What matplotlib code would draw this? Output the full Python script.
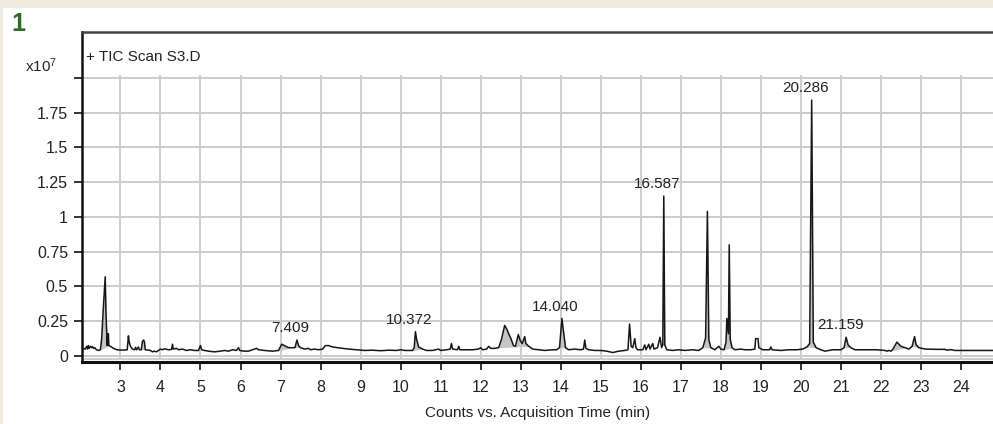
import numpy as np
import matplotlib
matplotlib.use("Agg")
from matplotlib import pyplot as plt
from matplotlib.patches import Rectangle

plt.rcParams['font.family'] = ['Liberation Sans Narrow', 'Liberation Sans', 'DejaVu Sans']
plt.rcParams['mathtext.default'] = 'regular'

# chromatogram trace: time (min), counts (x10^7)
t = [2.08, 2.12, 2.16, 2.18, 2.2, 2.22, 2.25, 2.28, 2.3, 2.33, 2.36, 2.4, 2.45, 2.5,
     2.53, 2.58, 2.62, 2.64, 2.67, 2.685, 2.7, 2.71, 2.75, 2.8, 2.88, 2.95, 3.1, 3.17,
     3.2, 3.22, 3.25, 3.3, 3.35, 3.38, 3.4, 3.45, 3.47, 3.52, 3.55, 3.58, 3.6, 3.62,
     3.7, 3.75, 3.8, 3.85, 3.9, 3.95, 4.0, 4.05, 4.1, 4.2, 4.28, 4.3, 4.32, 4.4, 4.45,
     4.55, 4.65, 4.75, 4.85, 4.95, 5.0, 5.03, 5.1, 5.2, 5.35, 5.5, 5.6, 5.7, 5.8, 5.9,
     5.95, 5.98, 6.1, 6.2, 6.3, 6.4, 6.45, 6.6, 6.8, 6.95, 7.03, 7.1, 7.2, 7.3, 7.36,
     7.41, 7.45, 7.5, 7.6, 7.7, 7.75, 7.85, 7.95, 8.05, 8.12, 8.2, 8.3, 8.5, 8.7, 8.9,
     9.1, 9.3, 9.5, 9.7, 9.9, 10.0, 10.1, 10.3, 10.34, 10.37, 10.4, 10.45, 10.55, 10.65,
     10.8, 10.95, 11.0, 11.15, 11.24, 11.27, 11.3, 11.42, 11.45, 11.48, 11.6, 11.8,
     11.95, 12.0, 12.05, 12.15, 12.2, 12.25, 12.35, 12.45, 12.52, 12.6, 12.66, 12.7,
     12.75, 12.82, 12.87, 12.94, 12.99, 13.04, 13.1, 13.13, 13.2, 13.3, 13.45, 13.6,
     13.8, 13.9, 13.97, 14.03, 14.08, 14.12, 14.2, 14.35, 14.5, 14.57, 14.6, 14.63, 14.7,
     14.85, 15.0, 15.15, 15.3, 15.45, 15.6, 15.68, 15.72, 15.76, 15.8, 15.85, 15.88,
     15.92, 16.05, 16.1, 16.13, 16.2, 16.23, 16.3, 16.33, 16.42, 16.48, 16.52, 16.55,
     16.575, 16.6, 16.65, 16.8, 16.95, 17.1, 17.3, 17.45, 17.55, 17.62, 17.665, 17.7,
     17.75, 17.85, 17.95, 18.0, 18.08, 18.13, 18.15, 18.19, 18.21, 18.235, 18.28, 18.35,
     18.5, 18.6, 18.75, 18.85, 18.87, 18.93, 18.95, 19.05, 19.22, 19.25, 19.28, 19.5,
     19.7, 19.9, 20.05, 20.15, 20.22, 20.27, 20.31, 20.38, 20.5, 20.6, 20.8, 21.0, 21.08,
     21.13, 21.18, 21.25, 21.35, 21.6, 21.9, 22.1, 22.15, 22.2, 22.25, 22.3, 22.4, 22.5,
     22.6, 22.7, 22.78, 22.84, 22.88, 22.95, 23.1, 23.4, 23.6, 23.65, 23.75, 23.85, 24.8]
counts = [0.055, 0.05, 0.07, 0.05, 0.075, 0.055, 0.07, 0.06, 0.068, 0.055, 0.06, 0.045, 0.04, 0.045,
          0.12, 0.38, 0.57, 0.3, 0.075, 0.16, 0.16, 0.075, 0.07, 0.06, 0.048, 0.043, 0.043, 0.045,
          0.145, 0.1, 0.07, 0.05, 0.045, 0.062, 0.045, 0.065, 0.045, 0.045, 0.105, 0.115, 0.1, 0.045,
          0.043, 0.04, 0.03, 0.035, 0.03, 0.04, 0.05, 0.045, 0.052, 0.045, 0.048, 0.085, 0.05, 0.055, 0.045,
          0.05, 0.04, 0.045, 0.04, 0.04, 0.075, 0.045, 0.04, 0.035, 0.03, 0.035, 0.04, 0.035, 0.045, 0.04,
          0.06, 0.04, 0.035, 0.035, 0.045, 0.055, 0.045, 0.04, 0.035, 0.04, 0.085, 0.075, 0.06, 0.06, 0.06,
          0.115, 0.075, 0.06, 0.05, 0.055, 0.045, 0.05, 0.045, 0.05, 0.075, 0.075, 0.065, 0.057, 0.05, 0.045,
          0.04, 0.042, 0.038, 0.042, 0.04, 0.045, 0.04, 0.04, 0.06, 0.175, 0.12, 0.065, 0.05, 0.04,
          0.04, 0.05, 0.04, 0.045, 0.05, 0.09, 0.05, 0.045, 0.07, 0.045, 0.045, 0.045,
          0.05, 0.06, 0.045, 0.05, 0.07, 0.055, 0.055, 0.06, 0.12, 0.22, 0.19, 0.16,
          0.13, 0.075, 0.07, 0.155, 0.11, 0.09, 0.14, 0.09, 0.07, 0.05, 0.045, 0.04,
          0.045, 0.045, 0.06, 0.27, 0.15, 0.06, 0.045, 0.05, 0.045, 0.05, 0.115, 0.055, 0.045,
          0.04, 0.04, 0.035, 0.025, 0.035, 0.04, 0.045, 0.23, 0.07, 0.06, 0.125, 0.06,
          0.045, 0.045, 0.08, 0.045, 0.085, 0.05, 0.09, 0.05, 0.06, 0.135, 0.06, 0.08,
          1.15, 0.08, 0.045, 0.04, 0.045, 0.04, 0.045, 0.04, 0.06, 0.13, 1.04, 0.12,
          0.06, 0.045, 0.07, 0.05, 0.045, 0.1, 0.27, 0.16, 0.8, 0.12, 0.06, 0.045,
          0.05, 0.045, 0.045, 0.05, 0.125, 0.125, 0.06, 0.045, 0.045, 0.065, 0.045, 0.04,
          0.045, 0.045, 0.05, 0.065, 0.09, 1.84, 0.1, 0.06, 0.045, 0.035, 0.045, 0.045, 0.06,
          0.135, 0.08, 0.06, 0.045, 0.045, 0.045, 0.04, 0.035, 0.04, 0.035, 0.05, 0.1, 0.07,
          0.06, 0.05, 0.07, 0.14, 0.08, 0.06, 0.05, 0.048, 0.048, 0.042, 0.046, 0.04, 0.04]

# integrated peak windows (shaded)
windows = [(2.5, 2.72), (3.52, 3.62), (6.95, 7.3), (7.36, 7.5), (10.3, 10.55), (12.45, 13.2),
           (13.97, 14.12), (16.55, 16.6), (17.55, 17.75), (18.08, 18.28), (20.15, 20.38),
           (21.08, 21.25), (22.25, 22.6), (22.78, 22.95)]

# labelled peaks: retention time, apex height
peak_labels = ["7.409", "10.372", "14.040", "16.587", "20.286", "21.159"]
peak_heights = [0.115, 0.175, 0.27, 1.15, 1.84, 0.135]

x_ticks = list(range(3, 25))
y_ticks = [0, 0.25, 0.5, 0.75, 1, 1.25, 1.5, 1.75, 2.0]
y_ticklabels = ["0", "0.25", "0.5", "0.75", "1", "1.25", "1.5", "1.75", ""]

fig = plt.figure(figsize=(9.93, 4.24), dpi=100)
fig.patch.set_facecolor("#f1ebdf")
fig.patches.append(Rectangle((3 / 993, 0), 1, (424 - 8) / 424, transform=fig.transFigure,
                             facecolor="white", edgecolor="none", zorder=-5))

ax = fig.add_axes([82 / 993, 1 - 362 / 424, 1 - 82 / 993, (362 - 32) / 424])
ax.set_zorder(2)
ax.patch.set_alpha(0)
ax.set_xlim(2.04, 24.8)
ax.set_ylim(-0.043, 2.33)

# grid only inside the plotting frame
ax.vlines(x_ticks, -0.022, 2.02, color="#cccccc", lw=1.4, zorder=1)
ax.hlines(y_ticks, 2.04, 24.8, color="#cccccc", lw=1.4, zorder=1)
ax.axhline(-0.022, color="#cccccc", lw=1.4, zorder=1)

tt = np.array(t)
yy = np.array(counts)
for a, b in windows:
    m = (tt >= a) & (tt <= b)
    base = np.interp(tt[m], [a, b], np.interp([a, b], tt, yy))
    ax.fill_between(tt[m], base, yy[m], color="#c4c4c4", lw=0, zorder=2)
ax.plot(tt, yy, color="#161616", lw=1.1, zorder=3)

for lab, h in zip(peak_labels, peak_heights):
    ax.text(float(lab) - 0.17, h + 0.035, lab, ha="center", va="bottom",
            fontsize=11, family=["Liberation Sans", "DejaVu Sans"], color="#222222")

ax.set_xticks(x_ticks)
ax.set_yticks(y_ticks)
ax.set_yticklabels(y_ticklabels)
ax.tick_params(axis="both", direction="out", length=6, width=1.3, labelsize=11.5,
               colors="#222222", pad=4)
ax.tick_params(axis="x", pad=7)

ax.spines["right"].set_visible(False)
ax.spines["top"].set_color("#444444")
ax.spines["top"].set_linewidth(1.8)
ax.spines["left"].set_linewidth(1.8)
ax.spines["bottom"].set_linewidth(2.2)
ax.spines["left"].set_color("#111111")
ax.spines["bottom"].set_color("#111111")

ax.set_xlabel("Counts vs. Acquisition Time (min)", fontsize=11, color="#222222", labelpad=8)

fig.text(86 / 993, 1 - 57 / 424, "+ TIC Scan S3.D", fontsize=11, va="center", color="#222222")
fig.text(25 / 993, 1 - 66 / 424, "x10$^7$", fontsize=11, va="center", color="#222222")
fig.text(11 / 993, 1 - 24 / 424, "1", fontsize=18, fontweight="bold", va="center",
         color="#2f6b22", family=["Liberation Sans", "DejaVu Sans"])

fig.savefig("out.png", dpi=100, facecolor=fig.get_facecolor())
